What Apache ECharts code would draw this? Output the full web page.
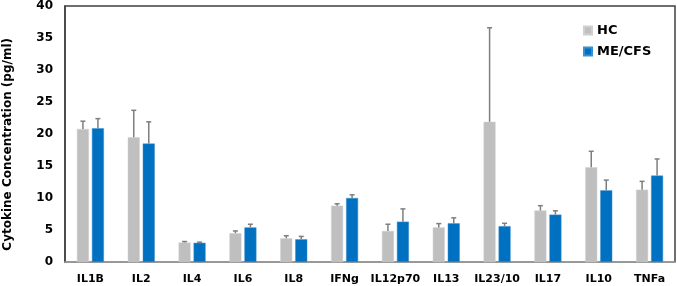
<!DOCTYPE html>
<html>
<head>
<meta charset="utf-8">
<script src="https://cdn.jsdelivr.net/npm/echarts@6/dist/echarts.min.js"></script>
<style>html,body{margin:0;padding:0;background:#fff;}#c{width:677px;height:286px;}</style>
</head>
<body>
<div id="c"></div>
<script>
const categories = ['IL1B','IL2','IL4','IL6','IL8','IFNg','IL12p70','IL13','IL23/10','IL17','IL10','TNFa'];
const hcValues   = [20.8, 19.5, 3.05, 4.5, 3.7, 8.8, 4.85, 5.4, 21.9, 8.05, 14.8, 11.3];
const hcErrTop   = [22.0, 23.7, 3.2, 4.85, 4.1, 9.1, 5.9, 6.0, 36.6, 8.8, 17.3, 12.6];
const meValues   = [20.9, 18.5, 3.0, 5.4, 3.55, 10.0, 6.3, 6.05, 5.6, 7.4, 11.2, 13.5];
const meErrTop   = [22.4, 21.9, 3.1, 5.9, 4.0, 10.5, 8.3, 6.9, 6.05, 8.0, 12.8, 16.1];
const yTicks = [0, 5, 10, 15, 20, 25, 30, 35, 40];

const chart = echarts.init(document.getElementById('c'), null, {renderer: 'canvas'});
const FONT = '"DejaVu Sans", Arial, sans-serif';
const BW = 12, GAP = 3;

function errSeries(vals, tops, offsetSign) {
  return {
    type: 'custom',
    silent: true,
    z: 5,
    data: vals.map((v, i) => [i, v, tops[i]]),
    renderItem: function (params, api) {
      const base = api.coord([api.value(0), api.value(1)]);
      const top = api.coord([api.value(0), api.value(2)]);
      const x = base[0] + offsetSign * (BW + GAP) / 2;
      const style = {stroke: '#7f7f7f', lineWidth: 1.5};
      return {
        type: 'group',
        children: [
          {type: 'line', shape: {x1: x, y1: base[1], x2: x, y2: top[1]}, style: style},
          {type: 'line', shape: {x1: x - 2.5, y1: top[1], x2: x + 2.5, y2: top[1]}, style: style}
        ]
      };
    }
  };
}

chart.setOption({
  animation: false,
  backgroundColor: '#fff',
  grid: {left: 65, right: 2, top: 5, bottom: 24, show: true, borderColor: '#404040', borderWidth: 1.5, backgroundColor: 'transparent'},
  legend: {
    orient: 'vertical', left: 578, top: 19, itemWidth: 8, itemHeight: 8, itemGap: 8,
    icon: 'rect',
    textStyle: {fontFamily: FONT, fontWeight: 'bold', fontSize: 13, color: '#000', padding: [0, 0, 0, 0]},
    data: ['HC', 'ME/CFS']
  },
  xAxis: {
    type: 'category', data: categories,
    axisLine: {lineStyle: {color: '#a6a6a6', width: 1.5}},
    axisTick: {show: false},
    axisLabel: {fontFamily: FONT, fontWeight: 'bold', fontSize: 11, color: '#000', margin: 12, interval: 0}
  },
  yAxis: {
    type: 'value', min: 0, max: 40, interval: 5,
    axisLine: {show: true, lineStyle: {color: '#404040', width: 1.5}},
    axisTick: {show: false},
    splitLine: {show: false},
    axisLabel: {fontFamily: FONT, fontWeight: 'bold', fontSize: 12, color: '#000', margin: 12,
      formatter: v => yTicks.includes(v) ? String(v) : ''}
  },
  graphic: [{
    type: 'text', left: 2, top: 38, rotation: Math.PI / 2,
    style: {text: 'Cytokine Concentration (pg/ml)', font: 'bold 12px ' + FONT, fill: '#000'}
  }],
  series: [
    {name: 'HC', type: 'bar', data: hcValues, barWidth: BW, barGap: '25%',
      itemStyle: {color: '#bfbfbf', borderColor: '#d0d0d0', borderWidth: 0.5}},
    {name: 'ME/CFS', type: 'bar', data: meValues, barWidth: BW,
      itemStyle: {color: '#0070c0', borderColor: '#3a8fd0', borderWidth: 0.5}},
    errSeries(hcValues, hcErrTop, -1),
    errSeries(meValues, meErrTop, 1)
  ]
});
</script>
</body>
</html>
